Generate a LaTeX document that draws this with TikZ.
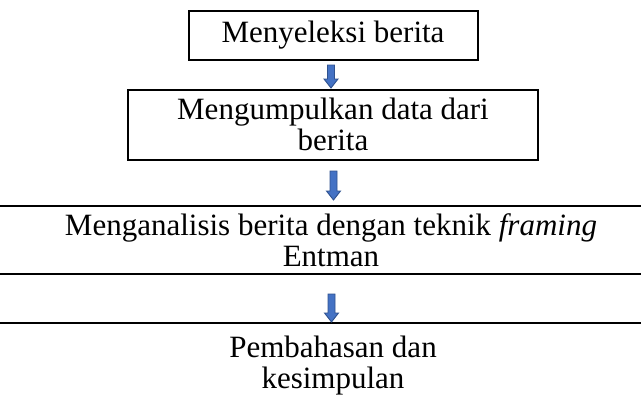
\documentclass[tikz,border=0pt]{standalone}
\usepackage{fontspec}
\setmainfont{Liberation Serif}
\definecolor{arrfill}{RGB}{68,114,196}
\definecolor{arrline}{RGB}{47,82,143}
\begin{document}
\begin{tikzpicture}[x=1pt,y=-1pt,
  txt/.style={align=center,font=\fontsize{31}{31}\selectfont,inner sep=0pt},
  boxline/.style={line width=2.5pt,black},
  blockarrow/.style={draw=arrline,fill=arrfill,line width=0.9pt,line join=miter}]
\useasboundingbox (0,0) rectangle (641,400);
\fill[white] (0,0) rectangle (641,400);
% box 1
\draw[boxline] (189,11) rectangle (478,60);
\node[txt] (t1) at (333,35.5) {Menyeleksi berita};
% box 2
\draw[boxline] (128,90) rectangle (538,160);
\node[txt] (t2) at (333,124) {Mengumpulkan data dari\\berita};
% box 3
\draw[boxline] (0,206) -- (641,206);
\draw[boxline] (0,274) -- (641,274);
\node[txt] (t3) at (331,240) {Menganalisis berita dengan teknik \textit{framing}\\Entman};
% box 4
\draw[boxline] (0,323) -- (641,323);
\node[txt] (t4) at (333,366) {Pembahasan dan\\kesimpulan};
% arrows: top-centre coordinates
\coordinate (a1) at (331,65);
\coordinate (a2) at (333.5,171);
\coordinate (a3) at (331.5,294);
\foreach \c/\len in {a1/23,a2/29,a3/28}{
  \draw[blockarrow] ([xshift=-3.5pt]\c) -- ++(0,\len-9) -- ++(-3.5,0)
    -- ([yshift=-\len pt]\c) -- ([shift={(7,\len-9)}]\c) -- ++(-3.5,0) -- ([xshift=3.5pt]\c) -- cycle;
}
\end{tikzpicture}
\end{document}
